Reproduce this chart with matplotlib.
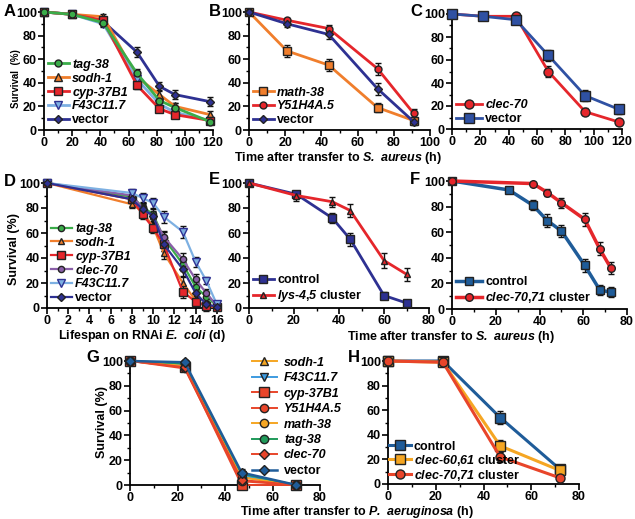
import matplotlib
matplotlib.use("Agg")
import matplotlib.pyplot as plt
from matplotlib.ticker import MultipleLocator

FONT = 'Liberation Sans'
plt.rcParams['font.family'] = [FONT, 'DejaVu Sans']
plt.rcParams['font.weight'] = 'bold'
plt.rcParams['axes.labelweight'] = 'bold'
plt.rcParams['mathtext.fontset'] = 'custom'
plt.rcParams['mathtext.it'] = FONT + ':italic:bold'
plt.rcParams['mathtext.rm'] = FONT + ':italic:bold'
plt.rcParams['mathtext.bf'] = FONT + ':italic:bold'
plt.rcParams['axes.linewidth'] = 1.3

W, H = 635, 519
fig = plt.figure(figsize=(W / 100, H / 100), dpi=100)

def ax_px(x0, y0, x1, y1):
    return fig.add_axes([x0 / W, 1 - y1 / H, (x1 - x0) / W, (y1 - y0) / H])

# ---------------- data ----------------
# Panel A (S. aureus)
a_time = [0, 20, 42, 66, 82, 93, 118]
a_tag38 = [100, 98, 91, 48, 25, 19, 7]
a_tag38_err = [0, 2, 3, 4, 4, 4, 2]
a_sodh1 = [100, 98, 96, 45, 30, 20, 13]
a_sodh1_err = [0, 2, 2, 4, 4, 3, 3]
a_cyp37b1 = [100, 98, 93, 38, 18, 13, 8]
a_cyp37b1_err = [0, 2, 3, 3, 3, 3, 2]
a_f43c117 = [100, 98, 90, 43, 22, 15, 8]
a_f43c117_err = [0, 2, 3, 4, 3, 3, 2]
a_vector = [100, 98, 92, 66, 37, 30, 24]
a_vector_err = [0, 2, 3, 4, 4, 4, 4]

# Panel B (S. aureus)
b_time = [0, 21, 44, 71, 91]
b_math38 = [100, 67, 55, 19, 8]
b_math38_err = [0, 5, 5, 4, 3]
b_y51h4a5 = [100, 93, 86, 52, 14]
b_y51h4a5_err = [0, 2, 3, 5, 4]
b_vector = [100, 90, 81, 35, 7]
b_vector_err = [0, 3, 4, 5, 3]

# Panel C (S. aureus)
c_time = [0, 22, 45, 68, 94, 118]
c_clec70 = [100, 98, 98, 50, 15, 6]
c_clec70_err = [0, 1, 2, 5, 3, 2]
c_vector = [100, 98, 95, 64, 29, 17]
c_vector_err = [0, 2, 2, 5, 5, 4]

# Panel D (lifespan, days)
d_time = [0, 8, 9, 10, 11, 12.8, 14, 15, 16]
d_tag38 = [100, 89, 81, 75, 56, 35, 17, 9, 2]
d_sodh1 = [100, 83, 77, 65, 44, 20, 6, 1, 1]
d_cyp37b1 = [100, 87, 75, 64, 51, 13, 5, 2, 1]
d_clec70 = [100, 90, 80, 73, 57, 39, 23, 12, 2]
d_f43c117 = [100, 92, 88, 84, 73, 61, 37, 22, 3]
d_vector = [100, 87, 79, 74, 51, 31, 12, 3, 1]
d_err = [0, 3, 4, 4, 5, 5, 4, 3, 2]

# Panel E (S. aureus)
e_time = [0, 21, 37, 45, 60, 70]
e_control = [100, 91, 72, 55, 10, 4]
e_control_err = [0, 3, 4, 5, 3, 2]
e_lys = [100, 90, 85, 78, 38, 27]
e_lys_err = [0, 4, 4, 5, 6, 5]

# Panel F (S. aureus)
f_time_ctrl = [0, 26, 37, 43.6, 50, 60.7, 67.5, 72.6]
f_control = [100, 93, 81, 69, 61, 34, 15, 13]
f_control_err = [0, 2, 4, 5, 5, 5, 4, 4]
f_time_clec = [0, 37, 43.6, 50, 60.7, 67.5, 72.6]
f_clec = [100, 98, 91, 83, 70, 47, 32]
f_clec_err = [0, 1, 3, 4, 5, 5, 5]

# Panel G (P. aeruginosa)
g_time = [0, 23, 47, 70]
g_sodh1 = [100, 97, 7, 0]
g_f43c117 = [100, 97, 8, 0]
g_cyp37b1 = [100, 95, 0, 0]
g_y51h4a5 = [100, 94, 3, 0]
g_math38 = [100, 96, 6, 0]
g_tag38 = [100, 98, 9, 0]
g_clec70 = [100, 95, 4, 0]
g_vector = [100, 99, 10, 0]
g_err = [0, 1, 3, 0]

# Panel H (P. aeruginosa)
h_time = [0, 23, 47, 72]
h_control = [100, 100, 54, 12]
h_control_err = [0, 1, 5, 2]
h_clec6061 = [100, 99, 31, 11]
h_clec6061_err = [0, 1, 5, 2]
h_clec7071 = [100, 99, 22, 5]
h_clec7071_err = [0, 1, 4, 1]

# ---------------- style ----------------
GREEN = '#3aac49'
ORANGE = '#f07e2c'
RED = '#e5262b'
LBLUE = '#7db0e2'
NAVY = '#2e3192'
PURPLE = '#8a5fa8'
BLUE = '#2f51a3'
TEAL = '#1f5c99'
GORANGE = '#f5a623'
GGREEN = '#1f9a5a'
GRED = '#e8452a'
FS = 9

def series(ax, x, y, err, color, marker, label, ms=5.5, lw=2.0, mfc=None, mec='#222222'):
    ax.errorbar(x, y, yerr=err, color=color, marker=marker, ms=ms, lw=lw,
                mfc=mfc if mfc else color, mec=mec, mew=1.0,
                ecolor='#111111', elinewidth=1.0, capsize=2.5, capthick=1.0,
                label=label, clip_on=False, zorder=3)

def style(ax, xmax, xmajor, xminor):
    ax.set_xlim(0, xmax)
    ax.set_ylim(0, 100)
    ax.spines['top'].set_visible(False)
    ax.spines['right'].set_visible(False)
    ax.xaxis.set_major_locator(MultipleLocator(xmajor))
    ax.xaxis.set_minor_locator(MultipleLocator(xminor))
    ax.yaxis.set_major_locator(MultipleLocator(20))
    ax.yaxis.set_minor_locator(MultipleLocator(10))
    ax.tick_params(which='major', length=4, width=1.2, labelsize=FS, pad=1.2)
    ax.tick_params(which='minor', length=2.5, width=1.0)

LEG = dict(frameon=False, handlelength=1.7, handletextpad=0.25,
           labelspacing=0.15, borderpad=0.1, prop={'weight': 'bold', 'size': FS})

def legend(ax, italic, order=None, **kw):
    opts = dict(LEG, loc='lower left', borderaxespad=0.2)
    opts.update(kw)
    handles, labels = ax.get_legend_handles_labels()
    handles = [h[0] for h in handles]  # line + marker only, no error bar
    if order is not None:
        handles = [handles[i] for i in order]
        labels = [labels[i] for i in order]
    leg = ax.legend(handles, labels, **opts)
    for t, it in zip(leg.get_texts(), italic):
        if it:
            t.set_fontstyle('italic')
    return leg

def ftext(x, y, s, **kw):
    opts = dict(ha='center', va='center', fontsize=FS, fontweight='bold')
    opts.update(kw)
    fig.text(x / W, 1 - y / H, s, **opts)

def panel_letter(x, y, s):
    fig.text(x / W, 1 - y / H, s, fontsize=12, fontweight='bold', va='center', ha='left')

# ---------------- Panel A ----------------
axA = ax_px(44, 12, 213, 130)
series(axA, a_time, a_vector, a_vector_err, NAVY, 'D', 'vector', ms=4.5)
series(axA, a_time, a_sodh1, a_sodh1_err, ORANGE, '^', 'sodh-1')
series(axA, a_time, a_f43c117, a_f43c117_err, LBLUE, 'v', 'F43C11.7', mec=NAVY)
series(axA, a_time, a_cyp37b1, a_cyp37b1_err, RED, 's', 'cyp-37B1', ms=6)
series(axA, a_time, a_tag38, a_tag38_err, GREEN, 'o', 'tag-38', ms=5)
style(axA, 120, 20, 10)
legend(axA, [1, 1, 1, 1, 0], order=[4, 1, 3, 2, 0])
ftext(16, 79, 'Survival  (%)', rotation=90, fontsize=7)

# ---------------- Panel B ----------------
axB = ax_px(249, 12, 430, 130)
series(axB, b_time, b_math38, b_math38_err, ORANGE, 's', 'math-38', ms=6)
series(axB, b_time, b_y51h4a5, b_y51h4a5_err, RED, 'o', 'Y51H4A.5', ms=5)
series(axB, b_time, b_vector, b_vector_err, NAVY, 'D', 'vector', ms=4.5)
style(axB, 100, 20, 10)
legend(axB, [1, 1, 0])

# ---------------- Panel C ----------------
axC = ax_px(452, 14, 622, 129)
series(axC, c_time, c_clec70, c_clec70_err, RED, 'o', 'clec-70', ms=6.5)
series(axC, c_time, c_vector, c_vector_err, BLUE, 's', 'vector', ms=6.5)
style(axC, 120, 20, 10)
legend(axC, [1, 0], handlelength=2.1)

ftext(338, 158, r'Time after transfer to $S.\ aureus$ (h)')

# ---------------- Panel D ----------------
axD = ax_px(47, 183, 220, 308)
series(axD, d_time, d_tag38, d_err, GREEN, 'o', 'tag-38', ms=4.5, lw=1.6)
series(axD, d_time, d_sodh1, d_err, ORANGE, '^', 'sodh-1', ms=5, lw=1.6)
series(axD, d_time, d_cyp37b1, d_err, RED, 's', 'cyp-37B1', ms=6, lw=1.6)
series(axD, d_time, d_clec70, d_err, PURPLE, 'o', 'clec-70', ms=4.5, lw=1.6)
series(axD, d_time, d_f43c117, d_err, LBLUE, 'v', 'F43C11.7', ms=5.5, lw=1.6, mec=NAVY)
series(axD, d_time, d_vector, d_err, NAVY, 'D', 'vector', ms=4, lw=1.6)
style(axD, 16.3, 2, 1)
legend(axD, [1, 1, 1, 1, 1, 0])
ftext(14, 249, 'Survival (%)', rotation=90)
ftext(142, 336, r'Lifespan on RNAi $E.\ coli$ (d)')

# ---------------- Panel E ----------------
axE = ax_px(249, 183, 429, 308)
series(axE, e_time, e_control, e_control_err, NAVY, 's', 'control', ms=5.5)
series(axE, e_time, e_lys, e_lys_err, RED, '^', r'$lys$-$4$,$5$ cluster', ms=5)
style(axE, 80, 20, 10)
legend(axE, [0, 0])

# ---------------- Panel F ----------------
axF = ax_px(452, 181, 627, 309)
series(axF, f_time_ctrl, f_control, f_control_err, TEAL, 's', 'control', ms=5.5, lw=2.5)
series(axF, f_time_clec, f_clec, f_clec_err, RED, 'o', r'$clec$-$70$,$71$ cluster', ms=5.5, lw=2.5)
style(axF, 80, 20, 10)
legend(axF, [0, 0], handlelength=2.1)

ftext(451, 337, r'Time after transfer to $S.\ aureus$ (h)')

# ---------------- Panel G ----------------
axG = ax_px(130, 361, 320, 485)
series(axG, g_time, g_sodh1, g_err, GORANGE, '^', 'sodh-1', ms=5.5, lw=1.4)
series(axG, g_time, g_f43c117, g_err, '#3d9be0', 'v', 'F43C11.7', ms=5.5, lw=1.4)
series(axG, g_time, g_cyp37b1, g_err, GRED, 's', 'cyp-37B1', ms=6.5, lw=1.4)
series(axG, g_time, g_y51h4a5, g_err, GRED, 'o', 'Y51H4A.5', ms=6, lw=1.4)
series(axG, g_time, g_math38, g_err, GORANGE, 'o', 'math-38', ms=6, lw=1.4)
series(axG, g_time, g_tag38, g_err, GGREEN, 'o', 'tag-38', ms=6, lw=1.4)
series(axG, g_time, g_clec70, g_err, GRED, 'D', 'clec-70', ms=5, lw=1.4)
series(axG, g_time, g_vector, g_err, TEAL, 'D', 'vector', ms=5.5, lw=1.8)
style(axG, 80, 20, 10)
legend(axG, [1, 1, 1, 1, 1, 1, 1, 0], loc='upper left',
       bbox_to_anchor=(249 / W, 1 - 354 / H), bbox_transform=fig.transFigure,
       handlelength=2.0, handletextpad=0.6, labelspacing=0.28, borderpad=0.0)
ftext(102, 422, 'Survival (%)', rotation=90)

# ---------------- Panel H ----------------
axH = ax_px(388, 361, 579, 484)
series(axH, h_time, h_control, h_control_err, TEAL, 's', 'control', ms=6.5, lw=2.2)
series(axH, h_time, h_clec6061, h_clec6061_err, GORANGE, 's', r'$clec$-$60$,$61$ cluster', ms=6.5, lw=2.2)
series(axH, h_time, h_clec7071, h_clec7071_err, GRED, 'o', r'$clec$-$70$,$71$ cluster', ms=6.5, lw=2.2)
style(axH, 80, 20, 10)
legend(axH, [0, 0, 0], borderaxespad=0.0, labelspacing=0.0)

ftext(357, 512, r'Time after transfer to $P.\ aeruginosa$ (h)')

# panel letters
panel_letter(4, 11, 'A')
panel_letter(209, 12, 'B')
panel_letter(410, 12, 'C')
panel_letter(4, 181, 'D')
panel_letter(209, 180, 'E')
panel_letter(410, 180, 'F')
panel_letter(86, 358, 'G')
panel_letter(348, 358, 'H')

fig.savefig('out.png', dpi=100)
